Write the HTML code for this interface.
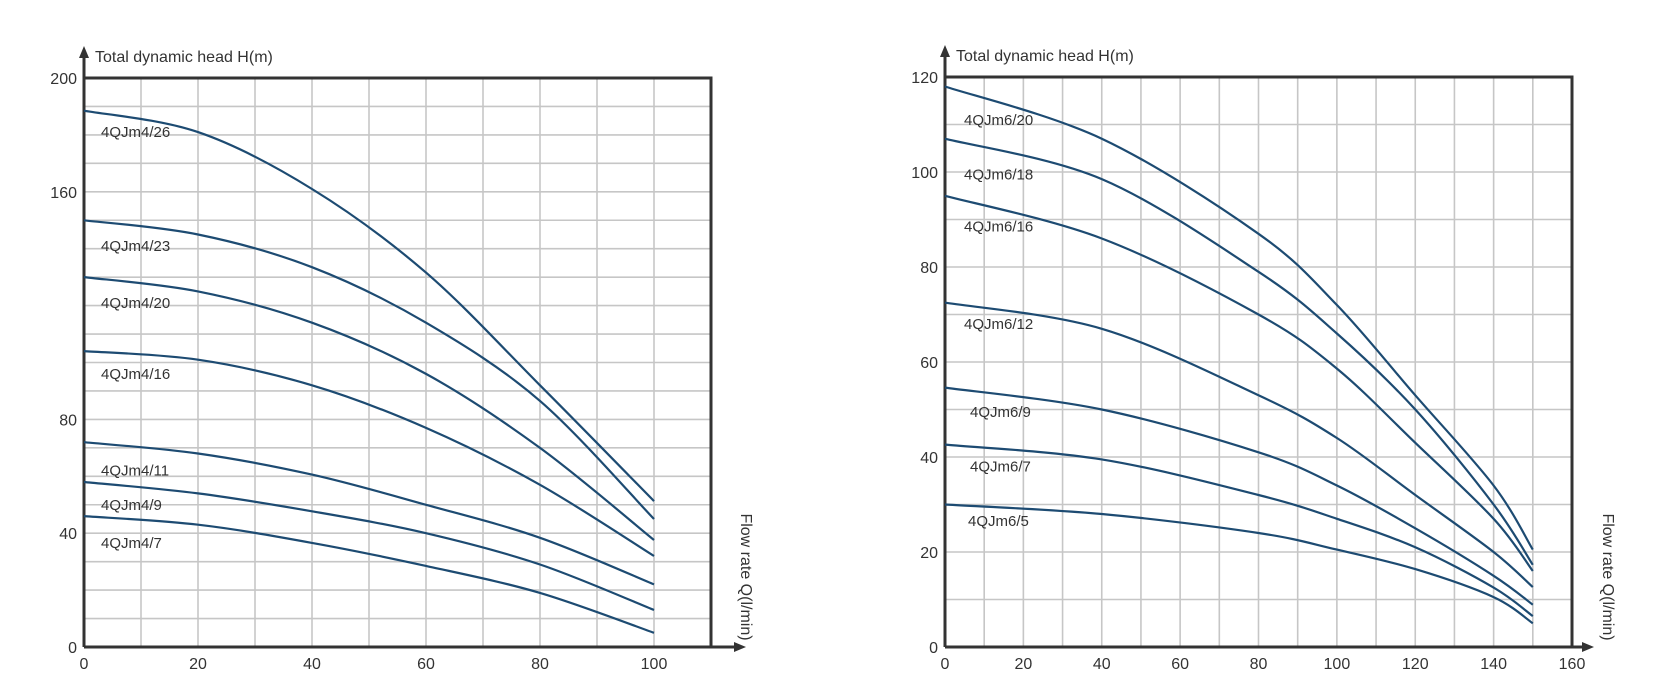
<!DOCTYPE html>
<html><head><meta charset="utf-8"><style>
html,body{margin:0;padding:0;background:#fff}
svg{display:block}
text{font-family:"Liberation Sans",Arial,sans-serif;fill:#333}
</style></head><body>
<svg id="c" width="1653" height="697" viewBox="0 0 1653 697" xmlns="http://www.w3.org/2000/svg"></svg>
<script>
// ---- Left chart data (Q in l/min, H in m) ----
const leftQ = [0, 20, 40, 60, 80, 100];
const leftNames = ["4QJm4/26","4QJm4/23","4QJm4/20","4QJm4/16","4QJm4/11","4QJm4/9","4QJm4/7"];
const left26 = [188.5, 181, 161, 131.6, 92, 51.3];
const left23 = [150, 145, 133.5, 114, 86.5, 45];
const left20 = [130, 125, 114, 96, 70, 37.6];
const left16 = [104, 101, 92, 77, 57, 32];
const left11 = [72, 68, 60.6, 50, 38.4, 22];
const left9  = [58, 54, 47.7, 40, 29, 13];
const left7  = [46, 43, 36.6, 28.5, 19, 5];
const leftLabelH = [181, 141, 121, 96, 62, 50, 36.5];
const leftYTicks = [0, 40, 80, 160, 200];
const leftXTicks = [0, 20, 40, 60, 80, 100];

// ---- Right chart data ----
const rightQ = [0, 40, 80, 100, 120, 140, 150];
const rightNames = ["4QJm6/20","4QJm6/18","4QJm6/16","4QJm6/12","4QJm6/9","4QJm6/7","4QJm6/5"];
const right20 = [118, 107, 87, 72, 53, 34, 20.5];
const right18 = [107, 98.5, 79, 66, 50, 30, 17.3];
const right16 = [95, 86, 70, 58.6, 43, 27, 16];
const right12 = [72.5, 67, 53, 44, 32, 20, 12.6];
const right9  = [54.6, 50, 41, 34, 25, 15, 8.9];
const right7  = [42.6, 39.5, 32, 27, 21, 12.5, 6.5];
const right5  = [30, 28, 24, 20.5, 16.4, 10.5, 5];
const rightLabelH = [111, 99.5, 88.5, 68, 49.5, 38, 26.5];
const rightYTicks = [0, 20, 40, 60, 80, 100, 120];
const rightXTicks = [0, 20, 40, 60, 80, 100, 120, 140, 160];

const NS = "http://www.w3.org/2000/svg";
const svg = document.getElementById("c");
function mk(tag, attrs, parent) {
  const e = document.createElementNS(NS, tag);
  for (const k in attrs) e.setAttribute(k, attrs[k]);
  (parent || svg).appendChild(e);
  return e;
}
function spline(pts) {
  let d = "M" + pts[0][0].toFixed(1) + "," + pts[0][1].toFixed(1);
  for (let i = 0; i < pts.length - 1; i++) {
    const p0 = pts[Math.max(0, i - 1)], p1 = pts[i], p2 = pts[i + 1], p3 = pts[Math.min(pts.length - 1, i + 2)];
    const c1x = p1[0] + (p2[0] - p0[0]) / 6, c1y = p1[1] + (p2[1] - p0[1]) / 6;
    const c2x = p2[0] - (p3[0] - p1[0]) / 6, c2y = p2[1] - (p3[1] - p1[1]) / 6;
    d += " C" + c1x.toFixed(1) + "," + c1y.toFixed(1) + " " + c2x.toFixed(1) + "," + c2y.toFixed(1) + " " + p2[0].toFixed(1) + "," + p2[1].toFixed(1);
  }
  return d;
}
function chart(cfg) {
  const g = mk("g", {});
  
  
  const X = v => cfg.x0 + (v - cfg.xmin) / (cfg.xmax - cfg.xmin) * (cfg.x1 - cfg.x0);
  const Y = v => cfg.y0 - (v - cfg.ymin) / (cfg.ymax - cfg.ymin) * (cfg.y0 - cfg.y1);
  // grid
  for (let v = cfg.xmin + cfg.gx; v < cfg.xmax; v += cfg.gx) {
    const l = mk("line", {x1: X(v), x2: X(v), y1: cfg.y1, y2: cfg.y0, stroke: "#c6c6c6", "stroke-width": 1.6}, g);
    
    
  }
  for (let v = cfg.ymin + cfg.gy; v < cfg.ymax; v += cfg.gy) {
    const l = mk("line", {x1: cfg.x0, x2: cfg.x1, y1: Y(v), y2: Y(v), stroke: "#c6c6c6", "stroke-width": 1.6}, g);
    
    
  }
  // frame
  const fr = mk("path", {d: `M${cfg.x0},${cfg.y0} V${cfg.y1} H${cfg.x1} V${cfg.y0}`, fill: "none", stroke: "#333", "stroke-width": 3}, g);
  
  
  const ya = mk("line", {x1: cfg.x0, x2: cfg.x0, y1: cfg.y0, y2: cfg.y1 - 24, stroke: "#333", "stroke-width": 3}, g);
  
  
  const yar = mk("path", {d: `M${cfg.x0 - 5},${cfg.y1 - 20} L${cfg.x0},${cfg.y1 - 32} L${cfg.x0 + 5},${cfg.y1 - 20} Z`, fill: "#333"}, g);
  
  
  const xa = mk("line", {x1: cfg.x0, x2: cfg.xArrow, y1: cfg.y0, y2: cfg.y0, stroke: "#333", "stroke-width": 3}, g);
  
  
  const xar = mk("path", {d: `M${cfg.xArrow - 4},${cfg.y0 - 5} L${cfg.xArrow + 8},${cfg.y0} L${cfg.xArrow - 4},${cfg.y0 + 5} Z`, fill: "#333"}, g);
  
  
  // ticks
  cfg.yTicks.forEach(v => {
    const t = mk("text", {x: cfg.x0 - 7, y: Y(v) + 6, "text-anchor": "end", "font-size": 16}, g);
    t.textContent = v;
    
    
  });
  cfg.xTicks.forEach(v => {
    const t = mk("text", {x: X(v), y: cfg.y0 + 22, "text-anchor": "middle", "font-size": 16}, g);
    t.textContent = v;
    
    
  });
  // titles
  const yt = mk("text", {x: cfg.x0 + 11, y: cfg.y1 - 16, "font-size": 16}, g);
  yt.textContent = "Total dynamic head H(m)";
  
  
  const xt = mk("text", {x: 0, y: 0, "font-size": 16, "text-anchor": "middle", transform: `translate(${cfg.xTitleX},577) rotate(90)`}, g);
  xt.textContent = "Flow rate Q(l/min)";
  
  
  // curves
  cfg.series.forEach((s, i) => {
    const pts = cfg.q.map((q, j) => [X(q), Y(s[j])]);
    const p = mk("path", {d: spline(pts), fill: "none", stroke: "#1d4b72", "stroke-width": 2.2}, g);
    
    
    const t = mk("text", {x: cfg.labelX[i], y: Y(cfg.labelH[i]) + 5, "font-size": 15}, g);
    t.textContent = cfg.names[i];
    
    
  });
}
chart({name: "left-chart", x0: 84, x1: 711, y0: 647, y1: 78, xmin: 0, xmax: 110, ymin: 0, ymax: 200, gx: 10, gy: 10,
  xArrow: 738, xTitleX: 741, yTicks: leftYTicks, xTicks: leftXTicks, q: leftQ,
  series: [left26, left23, left20, left16, left11, left9, left7], names: leftNames, labelH: leftLabelH,
  labelX: [101, 101, 101, 101, 101, 101, 101]});
chart({name: "right-chart", x0: 945, x1: 1572, y0: 647, y1: 77, xmin: 0, xmax: 160, ymin: 0, ymax: 120, gx: 10, gy: 10,
  xArrow: 1586, xTitleX: 1603, yTicks: rightYTicks, xTicks: rightXTicks, q: rightQ,
  series: [right20, right18, right16, right12, right9, right7, right5], names: rightNames, labelH: rightLabelH,
  labelX: [964, 964, 964, 964, 970, 970, 968]});
</script>
</body></html>
